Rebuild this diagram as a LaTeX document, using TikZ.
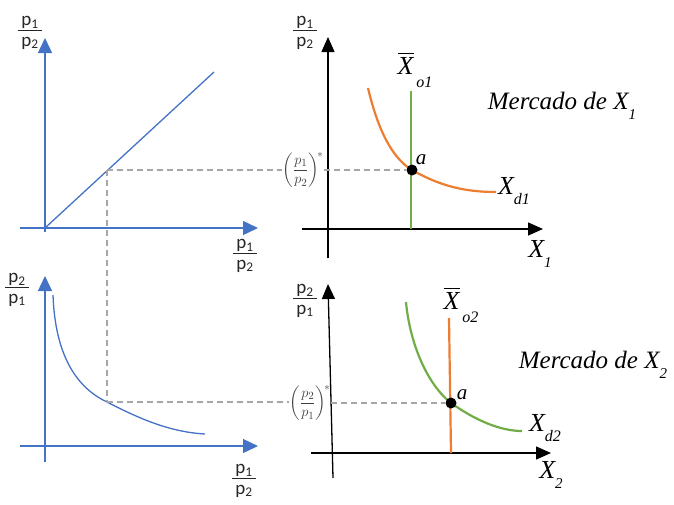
\documentclass[tikz,border=0pt]{standalone}
\usepackage{fontspec}
\usepackage{amsmath}
\setmainfont{Carlito}
\newfontfamily\tms{Liberation Serif}
\usetikzlibrary{arrows.meta}
\definecolor{bl}{HTML}{4472C4}
\definecolor{og}{HTML}{ED7D31}
\definecolor{gn}{HTML}{70AD47}
\definecolor{dg}{HTML}{A6A6A6}
\definecolor{tx}{HTML}{404040}
\newcommand\pf[2]{\begin{tabular}{@{\,}c@{\,}}p\textsubscript{#1}\\[-1pt]\hline\noalign{\vskip2pt}p\textsubscript{#2}\end{tabular}}
\newcommand\Xs[2]{{\tms\itshape X}\raisebox{-0.4em}{\fontsize{#2}{#2}\selectfont\tms\itshape #1}}
\newcommand\Xb[1]{$\overline{\mbox{\tms\itshape X}}$\raisebox{-0.5em}{\fontsize{16}{16}\selectfont\tms\itshape\,#1}}
\begin{document}
\begin{tikzpicture}[x=1pt,y=-1pt,
  baxis/.style={bl,line width=1.4pt,-{Triangle[length=15pt,width=14pt]}},
  kaxis/.style={black,line width=1.3pt,-{Triangle[length=15pt,width=13pt]}},
  bcurve/.style={bl,line width=1.3pt},
  ccurve/.style={line width=2.2pt},
  dsh/.style={dg,line width=1.5pt,dash pattern=on 6pt off 4pt},
  plab/.style={font=\fontsize{19}{19}\selectfont,inner sep=0pt,text=black!85},
  xlab/.style={font=\fontsize{26}{26}\selectfont,inner sep=0pt},
  slab/.style={font=\fontsize{15}{15}\selectfont,text=tx,inner sep=0pt},
  mlab/.style={font=\fontsize{25}{25}\selectfont\tms\itshape,inner sep=0pt},
  alab/.style={font=\fontsize{21}{21}\selectfont\tms\itshape,inner sep=0pt},
  dot/.style={circle,fill=black,inner sep=0pt,minimum size=11pt}]
\useasboundingbox (0,0) rectangle (674,504);

% ---------- top-left panel ----------
\coordinate (tlv0) at (45,232);
\coordinate (tlv1) at (45,38);
\coordinate (tlh0) at (20,228);
\coordinate (tlh1) at (258,228);
\coordinate (tlo) at (45,228);
\coordinate (tld) at (214,72);
\coordinate (p1) at (107,170);
\draw[baxis] (tlv0) -- (tlv1);
\draw[baxis] (tlh0) -- (tlh1);
\draw[bcurve] (tlo) -- (tld);
\node[plab] (tlyl) at (30,32) {\pf{1}{2}};
\node[plab] (tlxl) at (245,255) {\pf{1}{2}};

% ---------- bottom-left panel ----------
\coordinate (blv0) at (45,462);
\coordinate (blv1) at (45,276);
\coordinate (blh0) at (20,446);
\coordinate (blh1) at (258,446);
\coordinate (bc0) at (53,295);
\coordinate (p2) at (107,402);
\coordinate (bc1) at (205,434);
\draw[baxis] (blv0) -- (blv1);
\draw[baxis] (blh0) -- (blh1);
\draw[bcurve] (bc0) .. controls (55,350) and (73,386) .. (p2) .. controls (140,419) and (170,432) .. (bc1);
\node[plab] (blyl) at (17,289) {\pf{2}{1}};
\node[plab] (blxl) at (244,480) {\pf{1}{2}};

% ---------- top-right panel ----------
\coordinate (trv0) at (328,258);
\coordinate (trv1) at (328,37);
\coordinate (trh0) at (302,229);
\coordinate (trh1) at (543,229);
\coordinate (g0) at (411,91);
\coordinate (g1) at (411,229);
\coordinate (o0) at (368,88);
\coordinate (o1) at (496,192);
\draw[kaxis] (trv0) -- (trv1);
\draw[kaxis] (trh0) -- (trh1);
\draw[ccurve,gn] (g0) -- (g1);
\draw[ccurve,og] (o0) .. controls (378,130) and (392,158) .. (412,170) .. controls (440,186) and (465,192) .. (o1);
\node[dot] (a1) at (412,170) {};
\node[alab] (a1l) at (421,160) {a};
\node[plab] (tryl) at (305,32) {\pf{1}{2}};
\node[xlab] (xo1) at (415,70) {\Xb{o1}};
\node[xlab] (xd1) at (514,191) {\Xs{d1}{16}};
\node[xlab] (x1) at (540,254) {\Xs{1}{15}};
\node[mlab] (m1) at (562,106) {Mercado de \Xs{1}{15}};
\node[slab] (s1) at (303,170) {$\left(\dfrac{p_1}{p_2}\right)^{\!*}$};
\draw[dsh] (p1) -- (p1 -| s1.west);
\draw[dsh] (s1.east |- a1) -- (a1);
\draw[dsh] (p1) -- (p2);

% ---------- bottom-right panel ----------
\coordinate (brv0) at (333,478);
\coordinate (brv1) at (328,284);
\coordinate (brh0) at (311,453);
\coordinate (brh1) at (551,453);
\coordinate (r0) at (449,318);
\coordinate (r1) at (451,453);
\coordinate (gc0) at (406,302);
\coordinate (gc1) at (522,431);
\draw[kaxis] (brv0) -- (brv1);
\draw[kaxis] (brh0) -- (brh1);
\draw[ccurve,og] (r0) -- (r1);
\draw[ccurve,gn] (gc0) .. controls (410,345) and (428,385) .. (451,403) .. controls (475,420) and (500,431) .. (gc1);
\node[dot] (a2) at (451,403) {};
\node[alab] (a2l) at (462,395) {a};
\node[plab] (bryl) at (305,300) {\pf{2}{1}};
\node[xlab] (xo2) at (461,305) {\Xb{o2}};
\node[xlab] (xd2) at (545,428) {\Xs{d2}{16}};
\node[xlab] (x2) at (551,475) {\Xs{2}{15}};
\node[mlab] (m2) at (593,365) {Mercado de \Xs{2}{15}};
\node[slab] (s2) at (310,403) {$\left(\dfrac{p_2}{p_1}\right)^{\!*}$};
\draw[dsh] (p2) -- (p2 -| s2.west);
\draw[dsh] (s2.east |- a2) -- (a2);
\end{tikzpicture}
\end{document}
